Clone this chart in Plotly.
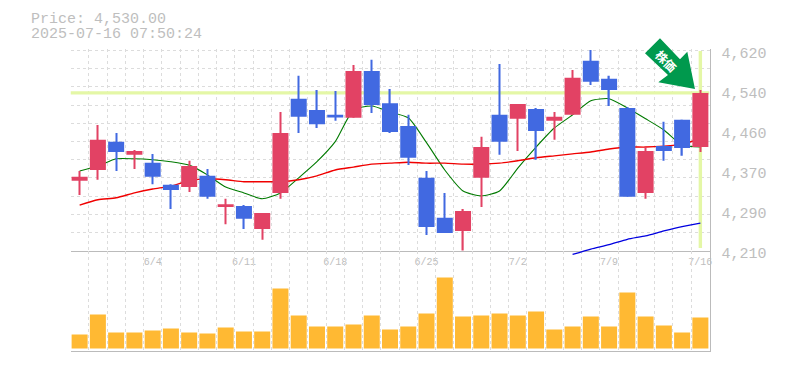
import plotly.graph_objects as go

# Daily prices, 5/29 .. 7/16
date_labels = ["6/4", "6/11", "6/18", "6/25", "7/2", "7/9", "7/16"]
date_index = [4, 9, 14, 19, 24, 29, 34]
price_ticks = [4620, 4538, 4456, 4374, 4292, 4210]
price_tick_text = ["4,620", "4,540", "4,460", "4,370", "4,290", "4,210"]

open_ = [4350, 4372, 4430, 4403, 4387, 4342, 4337, 4360, 4296, 4298, 4251, 4325, 4518, 4495, 4485, 4479, 4575, 4509,
         4462, 4356, 4274, 4247, 4356, 4485, 4477, 4497, 4473, 4485, 4596, 4559, 4499, 4325, 4421, 4475, 4419]
high = [4370, 4464, 4448, 4413, 4405, 4343, 4391, 4374, 4313, 4300, 4284, 4491, 4565, 4536, 4534, 4587, 4598, 4538,
        4485, 4370, 4325, 4292, 4440, 4589, 4507, 4499, 4491, 4577, 4618, 4565, 4501, 4419, 4471, 4475, 4536]
low = [4321, 4352, 4370, 4374, 4343, 4292, 4327, 4313, 4261, 4251, 4229, 4313, 4448, 4458, 4473, 4479, 4489, 4448,
       4382, 4239, 4243, 4206, 4296, 4403, 4411, 4393, 4434, 4485, 4546, 4503, 4317, 4313, 4391, 4401, 4409]
close = [4358, 4434, 4409, 4411, 4358, 4331, 4380, 4317, 4302, 4272, 4284, 4448, 4481, 4466, 4481, 4575, 4505, 4450,
         4397, 4255, 4243, 4288, 4419, 4430, 4507, 4452, 4481, 4561, 4553, 4536, 4317, 4411, 4411, 4417, 4530]
ma_green = [4370, 4380, 4395, 4395, 4393, 4389, 4382, 4362, 4337, 4325, 4313, 4325, 4356, 4389, 4430, 4495, 4503, 4491,
            4479, 4428, 4372, 4329, 4319, 4329, 4376, 4419, 4458, 4485, 4514, 4518, 4499, 4477, 4454, 4423, 4419]
ma_red = [4300, 4311, 4315, 4325, 4333, 4339, 4350, 4354, 4352, 4348, 4348, 4348, 4352, 4360, 4372, 4378, 4384, 4386,
          4388, 4386, 4386, 4384, 4384, 4386, 4391, 4397, 4401, 4405, 4409, 4415, 4419, 4419, 4421, 4425, 4436]
ma_blue = [None] * 27 + [4199, 4210, 4219, 4230, 4237, 4247, 4256, 4263]
volume = [14, 34, 16, 16, 18, 20, 16, 15, 21, 17, 17, 60, 33, 22, 22, 24, 33, 19,
          22, 35, 71, 32, 33, 35, 33, 37, 19, 22, 32, 22, 56, 32, 23, 16, 31]
last_price = 4530
x = list(range(len(close)))

W, H = 785, 370
GREY, LABEL, GRID, LIME = "#bbbbbb", "#bebebe", "#dcdcdc", "#e4f7a6"
UP, DOWN, VOL = "#e24264", "#4169e1", "#ffb933"
MONO = "Liberation Mono, monospace"
RANGE = [4207, 4621]

fig = go.Figure()
# moving averages first, on the main price axis, so that the candles cover them
for vals, col, wid in [(ma_green, "#007a00", 1.1), (ma_red, "#f00000", 1.4)]:
    fig.add_trace(go.Scatter(x=x, y=vals, mode="lines", line=dict(color=col, width=wid, shape="spline", smoothing=0.6),
                             xaxis="x", yaxis="y", hoverinfo="skip"))
# the long average runs a little below the panel: its own hidden pair of axes reaches further down
fig.add_trace(go.Scatter(x=x, y=ma_blue, mode="lines", line=dict(color="#0000e0", width=1.3, shape="spline", smoothing=0.6),
                         xaxis="x3", yaxis="y4", hoverinfo="skip"))
# candles: wicks then bodies, on an overlay of the price axis
for idx, col in [([i for i in x if close[i] >= open_[i]], UP), ([i for i in x if close[i] < open_[i]], DOWN)]:
    fig.add_trace(go.Bar(x=idx, base=[low[i] for i in idx], y=[high[i] - low[i] for i in idx], width=0.07,
                         marker=dict(color=col, line_width=0), xaxis="x", yaxis="y3", hoverinfo="skip"))
    fig.add_trace(go.Bar(x=idx, base=[min(open_[i], close[i]) for i in idx],
                         y=[abs(close[i] - open_[i]) for i in idx], width=0.877,
                         marker=dict(color=col, line_width=0), xaxis="x", yaxis="y3", hoverinfo="skip"))
fig.add_trace(go.Bar(x=x, y=volume, width=0.877, marker=dict(color=VOL, line_width=0),
                     xaxis="x2", yaxis="y2", hoverinfo="skip"))

vgrid = dict(showgrid=True, gridcolor=GRID, griddash="3px,3px", gridwidth=1, tick0=-0.5, dtick=1)
fig.update_layout(
    width=W, height=H, autosize=False, showlegend=False, barmode="overlay",
    margin=dict(l=0, r=0, t=0, b=0, autoexpand=False), paper_bgcolor="white", plot_bgcolor="rgba(0,0,0,0)",
    font=dict(family=MONO, color=LABEL),
    xaxis=dict(domain=[70.5 / W, 709.5 / W], range=[-0.5, 34.5], anchor="y",
               tickmode="array", tickvals=date_index, ticktext=date_labels, showgrid=False, automargin=False,
               tickfont=dict(size=10, color=LABEL), ticks="", ticklen=0, ticklabelstandoff=1,
               showline=True, linecolor=GREY, linewidth=1, zeroline=False, minor=vgrid),
    yaxis=dict(domain=[(H - 250.5) / H, (H - 48.5) / H], range=RANGE, anchor="x", side="right",
               tickmode="array", tickvals=price_ticks, ticktext=price_tick_text, showgrid=False, automargin=False,
               tickfont=dict(size=15, color=LABEL), ticks="", ticklabelstandoff=8, ticklabelshift=4,
               showline=True, linecolor=GREY, linewidth=1, zeroline=False,
               minor=dict(showgrid=True, gridcolor=GRID, griddash="3px,3px", gridwidth=1, tick0=4616.7, dtick=37.27)),
    yaxis3=dict(overlaying="y", range=RANGE, anchor="x", side="right", showticklabels=False, ticks="",
                showgrid=False, zeroline=False, showline=False),
    xaxis3=dict(domain=[70.5 / W, 709.5 / W], range=[-0.5, 34.5], anchor="y4", visible=False),
    yaxis4=dict(domain=[(H - 256.5) / H, (H - 48.5) / H], range=[RANGE[0] - 6 * 2.05, RANGE[1]], anchor="x3",
                visible=False),
    xaxis2=dict(domain=[70.5 / W, 709.5 / W], range=[-0.5, 34.5], anchor="y2", showticklabels=False, ticks="",
                showline=True, linecolor=GREY, linewidth=1, showgrid=False, zeroline=False, minor=vgrid),
    yaxis2=dict(domain=[(H - 350.5) / H, (H - 250.5) / H], range=[-2, 98], anchor="x2", side="right",
                showticklabels=False, ticks="", showline=True, linecolor=GREY, linewidth=1,
                showgrid=False, zeroline=False),
    shapes=[
        dict(type="line", layer="between", xref="x", yref="y", x0=-0.5, x1=34.5, y0=last_price, y1=last_price,
             line=dict(color=LIME, width=3.4)),
        dict(type="line", layer="between", xref="x", yref="y", x0=34, x1=34, y0=4212, y1=4616,
             line=dict(color=LIME, width=3.4)),
        dict(type="path", xref="paper", yref="paper", line_width=0, fillcolor="#00994d", layer="above",
             path="M %f %f L %f %f L %f %f L %f %f L %f %f L %f %f L %f %f Z" % tuple(
                 v for p in [(660, 38.3), (645, 53.3), (668, 75), (658.3, 82.3), (695, 89), (687.3, 51.7), (680, 59.3)]
                 for v in (p[0] / W, 1 - p[1] / H))),
    ],
    annotations=[
        dict(text="Price: 4,530.00", xref="paper", yref="paper", x=29 / W, y=1 - 19 / H, xanchor="left", yanchor="middle",
             showarrow=False, font=dict(family=MONO, size=15, color=LABEL)),
        dict(text="2025-07-16 07:50:24", xref="paper", yref="paper", x=29 / W, y=1 - 34.5 / H, xanchor="left", yanchor="middle",
             showarrow=False, font=dict(family=MONO, size=15, color=LABEL)),
        dict(text="<b>株価</b>", xref="paper", yref="paper", x=666.5 / W, y=1 - 60 / H, xanchor="center", yanchor="middle",
             showarrow=False, textangle=45, font=dict(family="Noto Sans CJK JP", size=12, color="white")),
    ],
)
fig.write_html("out.html", config=dict(displayModeBar=False),
               post_script="document.body.style.margin='0';document.body.style.overflow='hidden';")
